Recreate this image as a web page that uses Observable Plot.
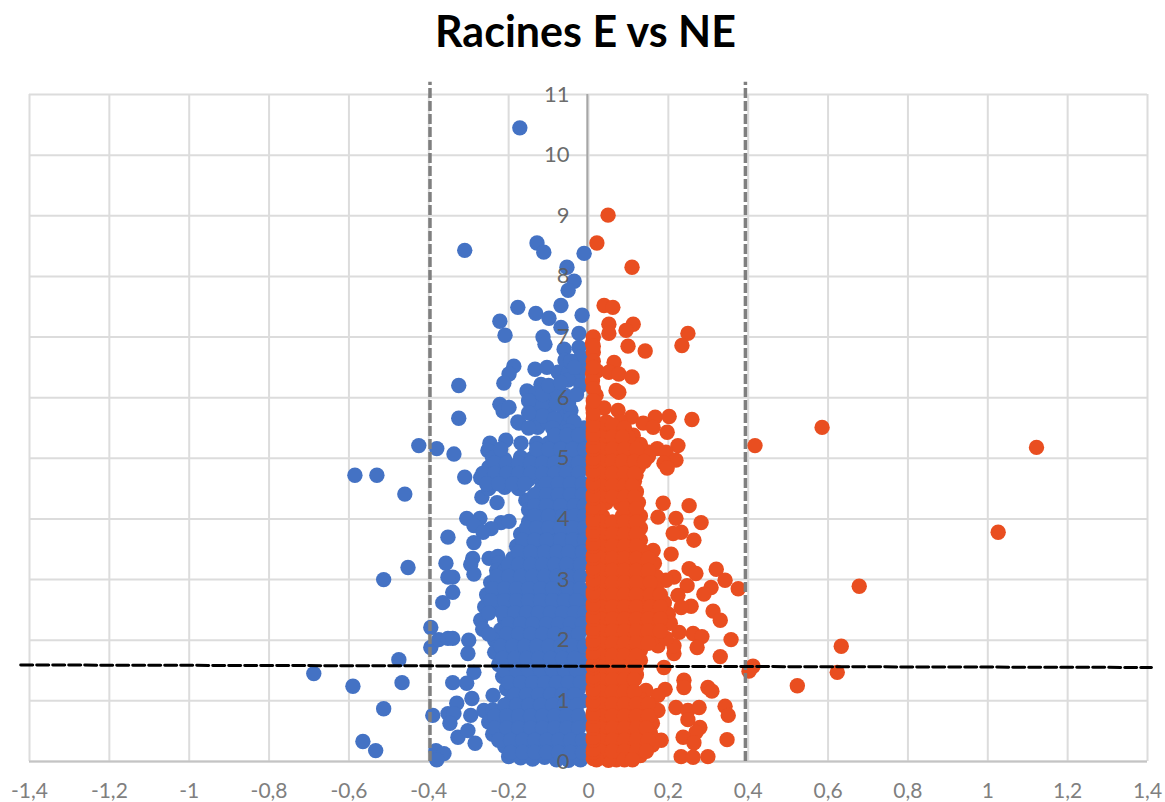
<!DOCTYPE html>
<html>
<head>
<meta charset="utf-8">
<script src="https://cdn.jsdelivr.net/npm/d3@7"></script>
<script src="https://cdn.jsdelivr.net/npm/@observablehq/plot@0.6"></script>
<style>
html,body{margin:0;padding:0;background:#fff;overflow:hidden}
#title{height:60px;font:700 43px Lato,sans-serif;line-height:62px;text-align:center;color:#000;padding-left:6px;box-sizing:border-box}
</style>
</head>
<body>
<div id="title">Racines E vs NE</div>
<div id="chart"></div>
<script>
const xTicks = [-1.4,-1.2,-1,-0.8,-0.6,-0.4,-0.2,0,0.2,0.4,0.6,0.8,1,1.2,1.4];
const yTicks = [0,1,2,3,4,5,6,7,8,9,10,11];

const blueOutliers = [
[-.172,10.45],[-.31,8.43],[-.129,8.55],[-.112,8.4],[-.011,8.38],[-.054,8.15],[-.036,7.92],[-.051,7.77],
[-.069,7.52],[-.177,7.49],[-.132,7.39],[-.099,7.31],[-.016,7.36],[-.222,7.26],[-.209,7.03],[-.069,7.16],
[-.024,7.06],[-.114,7],[-.109,6.88],[-.061,6.8],[-.024,6.83],[-.059,6.62],[-.187,6.52],[-.199,6.39],
[-.212,6.24],[-.325,6.2],[-.134,6.47],[-.104,6.5],[-.076,6.42],[-.051,6.4],[-.026,6.34],[-.119,6.22],
[-.154,6.11],[-.051,6.29],[-.019,6.2],[-.019,6.5],[-.019,6.67],[-.132,6.07],[-.132,5.87],[-.132,5.66],
[-.099,5.99],[-.099,5.76],[-.069,5.99],[-.064,5.71],[-.044,5.79],[-.059,6.04],[-.222,5.89],[-.214,5.78],
[-.199,5.84],[-.325,5.66],[-.177,5.6],[-.044,5.66],[-.011,5.5],[-.174,5.58],[-.127,5.51],[-.102,5.6],
[-.069,5.51],[-.036,5.6],[-.425,5.21],[-.38,5.16],[-.337,5.07],[-.585,4.72],[-.53,4.72],[-.31,4.69],
[-.46,4.41],[-.247,5.25],[-.252,5.13],[-.207,5.3],[-.169,5.25],[-.267,4.36],[-.229,4.27],[-.157,4.31],
[-.305,4.01],[-.272,4.01],[-.287,3.89],[-.219,3.94],[-.199,3.96],[-.244,3.84],[-.264,3.78],[-.352,3.7],
[-.287,3.61],[-.452,3.2],[-.513,3],[-.357,3.27],[-.34,3.04],[-.352,3.04],[-.34,2.79],[-.365,2.62],
[-.29,3.35],[-.295,3.25],[-.287,3.09],[-.249,3.35],[-.227,3.38],[-.225,3.27],[-.395,2.21],[-.395,1.88],
[-.375,2.01],[-.352,2.03],[-.34,2.03],[-.3,2],[-.302,1.78],[-.287,1.47],[-.475,1.68],[-.688,1.45],
[-.59,1.24],[-.467,1.3],[-.34,1.3],[-.305,1.29],[-.513,.87],[-.292,1.04],[-.33,.96],[-.239,1.09],
[-.39,.76],[-.352,.79],[-.337,.79],[-.347,.63],[-.295,.76],[-.262,.84],[-.327,.4],[-.284,.3],
[-.302,.51],[-.565,.33],[-.533,.18],[-.382,.18],[-.362,.13],[-.38,.03]
];
const blueDense = [
[-.13,5.25],[-.1,5.25],[-.07,5.28],[-.04,5.25],[-.015,5.25],
[-.24,5],[-.21,4.98],[-.17,5.02],[-.14,5],[-.11,5.02],[-.08,5],[-.05,5],[-.02,5.02],
[-.25,4.85],[-.22,4.85],[-.19,4.83],[-.16,4.85],[-.13,4.85],[-.1,4.83],[-.07,4.85],[-.04,4.85],[-.01,4.85],
[-.27,4.68],[-.24,4.65],[-.21,4.65],[-.18,4.67],[-.15,4.65],[-.12,4.65],[-.09,4.65],[-.06,4.66],[-.03,4.65],
[-.25,4.5],[-.21,4.52],[-.175,4.5],[-.12,4.48],[-.09,4.5],[-.06,4.5],[-.03,4.48],
[-.15,4.3],[-.12,4.3],[-.09,4.32],[-.06,4.3],[-.03,4.3],
[-.15,4.15],[-.115,4.13],[-.08,4.15],[-.05,4.15],[-.02,4.13],
[-.15,3.95],[-.12,3.95],[-.09,3.97],[-.06,3.95],[-.03,3.95],
[-.17,3.75],[-.14,3.75],[-.11,3.77],[-.08,3.75],[-.05,3.75],[-.02,3.75],
[-.18,3.55],[-.15,3.55],[-.12,3.53],[-.09,3.55],[-.06,3.55],[-.03,3.55],
[-.19,3.35],[-.16,3.35],[-.13,3.37],[-.1,3.35],[-.07,3.35],[-.04,3.35],[-.01,3.35],
[-.23,3.15],[-.21,3.15],[-.18,3.13],[-.15,3.15],[-.12,3.15],[-.09,3.15],[-.06,3.15],[-.03,3.15],
[-.245,2.95],[-.215,2.95],[-.185,2.97],[-.155,2.95],[-.125,2.95],[-.095,2.93],[-.065,2.95],[-.035,2.95],
[-.255,2.75],[-.225,2.75],[-.195,2.73],[-.165,2.75],[-.135,2.77],[-.105,2.75],[-.07,2.75],[-.04,2.75],[-.01,2.75],
[-.26,2.55],[-.23,2.57],[-.2,2.55],[-.17,2.55],[-.14,2.53],[-.11,2.55],[-.08,2.55],[-.05,2.55],[-.02,2.55],
[-.27,2.33],[-.21,2.35],[-.18,2.35],[-.15,2.37],[-.115,2.35],[-.085,2.35],[-.055,2.35],[-.025,2.35],
[-.265,2.18],[-.22,2.17],[-.19,2.2],[-.16,2.2],[-.13,2.18],[-.1,2.2],[-.07,2.2],[-.04,2.2],[-.01,2.2],
[-.235,2],[-.205,2],[-.175,2.02],[-.145,2],[-.115,2],[-.085,1.98],[-.055,2],[-.025,2],
[-.235,1.8],[-.205,1.82],[-.175,1.8],[-.145,1.78],[-.115,1.8],[-.08,1.8],[-.05,1.8],[-.02,1.8],
[-.225,1.6],[-.195,1.6],[-.165,1.62],[-.135,1.6],[-.105,1.6],[-.075,1.58],[-.045,1.6],[-.015,1.6],
[-.215,1.4],[-.185,1.4],[-.155,1.42],[-.125,1.4],[-.095,1.4],[-.065,1.38],[-.035,1.4],[-.01,1.4],
[-.205,1.2],[-.175,1.2],[-.145,1.22],[-.115,1.2],[-.085,1.2],[-.055,1.18],[-.025,1.2],
[-.195,1],[-.165,1.02],[-.135,1],[-.105,1],[-.075,.98],[-.045,1],[-.015,1],
[-.24,.85],[-.21,.83],[-.18,.85],[-.15,.85],[-.12,.83],[-.09,.85],[-.06,.85],[-.03,.83],
[-.25,.65],[-.22,.66],[-.19,.65],[-.16,.63],[-.13,.65],[-.1,.65],[-.07,.66],[-.04,.65],[-.01,.65],
[-.24,.45],[-.21,.47],[-.18,.45],[-.15,.43],[-.12,.45],[-.09,.45],[-.06,.43],[-.03,.45],
[-.21,.25],[-.18,.27],[-.15,.25],[-.12,.25],[-.09,.23],[-.06,.25],[-.03,.25],
[-.2,.08],[-.17,.06],[-.14,.04],[-.11,.07],[-.08,.03],[-.05,.02],[-.02,.03]
];
const blueFill = [
[-.115,5.9],[-.115,5.7],[-.08,5.9],[-.085,5.65],[-.15,5.95],[-.15,5.75],[-.115,6.05],[-.08,6.1],[-.05,5.9],[-.03,6.05],
[-.1,6.2],[-.07,6.25],[-.045,6.6],[-.035,6.5],[-.09,5.5],[-.05,5.45],[-.15,5.5],[-.02,5.35],
[-.085,5.38],[-.055,5.38],[-.025,5.38],
[-.22,5.15],[-.13,5.15],[-.1,5.15],[-.07,5.15],[-.04,5.15],[-.01,5.15],
[-.235,4.92],[-.205,4.92],[-.175,4.92],[-.145,4.92],[-.115,4.92],[-.085,4.92],[-.055,4.92],[-.025,4.92],
[-.265,4.75],[-.235,4.75],[-.205,4.75],[-.175,4.75],[-.145,4.75],[-.115,4.75],[-.085,4.75],[-.055,4.75],[-.025,4.75],
[-.255,4.58],[-.225,4.58],[-.19,4.58],[-.16,4.58],[-.105,4.58],[-.075,4.58],[-.045,4.58],[-.015,4.58],
[-.135,4.4],[-.105,4.4],[-.075,4.4],[-.045,4.4],[-.015,4.4],
[-.135,4.22],[-.105,4.22],[-.07,4.22],[-.035,4.22],[-.01,4.22],
[-.135,4.05],[-.1,4.05],[-.065,4.05],[-.035,4.05],[-.01,4.05],
[-.155,3.85],[-.13,3.85],[-.1,3.85],[-.07,3.85],[-.04,3.85],[-.01,3.85],
[-.165,3.65],[-.135,3.65],[-.105,3.65],[-.07,3.65],[-.04,3.65],[-.01,3.65],
[-.175,3.45],[-.145,3.45],[-.11,3.45],[-.08,3.45],[-.05,3.45],[-.015,3.45],
[-.2,3.25],[-.175,3.25],[-.145,3.25],[-.115,3.25],[-.085,3.25],[-.055,3.25],[-.02,3.25],
[-.23,3.05],[-.2,3.05],[-.17,3.05],[-.14,3.05],[-.11,3.05],[-.08,3.05],[-.05,3.05],[-.02,3.05],
[-.24,2.85],[-.21,2.85],[-.18,2.85],[-.15,2.85],[-.12,2.85],[-.09,2.85],[-.05,2.85],[-.02,2.85],
[-.245,2.65],[-.21,2.65],[-.18,2.65],[-.15,2.65],[-.12,2.65],[-.09,2.65],[-.06,2.65],[-.03,2.65],
[-.25,2.45],[-.215,2.45],[-.185,2.45],[-.155,2.45],[-.125,2.45],[-.095,2.45],[-.065,2.45],[-.035,2.45],[-.01,2.45],
[-.2,2.27],[-.17,2.27],[-.14,2.27],[-.105,2.27],[-.075,2.27],[-.045,2.27],[-.015,2.27],
[-.25,2.1],[-.205,2.1],[-.175,2.1],[-.145,2.1],[-.115,2.1],[-.085,2.1],[-.055,2.1],[-.025,2.1],
[-.22,1.9],[-.19,1.9],[-.16,1.9],[-.13,1.9],[-.1,1.9],[-.07,1.9],[-.04,1.9],[-.01,1.9],
[-.215,1.7],[-.185,1.7],[-.155,1.7],[-.125,1.7],[-.095,1.7],[-.065,1.7],[-.035,1.7],
[-.21,1.5],[-.18,1.5],[-.15,1.5],[-.12,1.5],[-.09,1.5],[-.06,1.5],[-.03,1.5],
[-.2,1.3],[-.17,1.3],[-.14,1.3],[-.11,1.3],[-.08,1.3],[-.05,1.3],[-.02,1.3],
[-.185,1.1],[-.155,1.1],[-.125,1.1],[-.095,1.1],[-.065,1.1],[-.035,1.1],
[-.21,.93],[-.18,.93],[-.15,.93],[-.12,.93],[-.09,.93],[-.06,.93],[-.03,.93],
[-.235,.75],[-.205,.75],[-.175,.75],[-.145,.75],[-.115,.75],[-.085,.75],[-.055,.75],[-.025,.75],
[-.235,.55],[-.205,.55],[-.175,.55],[-.145,.55],[-.115,.55],[-.085,.55],[-.055,.55],[-.025,.55],
[-.225,.35],[-.195,.35],[-.165,.35],[-.135,.35],[-.105,.35],[-.075,.35],[-.045,.35],[-.015,.35],
[-.195,.15],[-.165,.15],[-.135,.15],[-.105,.15],[-.075,.15],[-.045,.15],[-.015,.15]
];
const redOutliers = [
[.049,9.01],[.021,8.55],[.109,8.15],[.039,7.52],[.061,7.49],[.051,7.21],[.051,7.06],[.112,7.21],[.094,7.11],
[.249,7.06],[.234,6.86],[.099,6.85],[.142,6.77],[.064,6.58],[.012,6.75],[.01,6.9],[.01,6.4],[.021,6.44],
[.051,6.42],[.076,6.39],[.109,6.34],[.01,6.28],[.069,6.12],[.076,6.09],[.019,6.04],[.011,5.83],[.039,5.83],
[.074,5.79],[.107,5.68],[.137,5.58],[.167,5.68],[.202,5.69],[.259,5.64],[.162,5.51],[.197,5.43],[.112,5.38],
[.417,5.21],[.224,5.21],[.172,5.16],[.152,5.1],[.194,5.1],[.219,4.97],[.189,4.92],[.197,4.84],[.137,4.98],
[.119,4.72],[.187,4.26],[.252,4.22],[.174,4.03],[.219,4.01],[.282,3.94],[.232,3.78],[.212,3.76],[.264,3.65],
[.207,3.42],[.162,3.48],[.252,3.18],[.269,3.1],[.32,3.17],[.342,2.99],[.375,2.85],[.214,3.04],[.194,2.99],
[.247,2.9],[.307,2.87],[.289,2.76],[.224,2.74],[.257,2.56],[.312,2.48],[.33,2.33],[.232,2.54],[.357,2.01],
[.227,2.13],[.262,2.11],[.284,2.06],[.272,1.88],[.33,1.73],[.214,1.78],[.214,1.91],[.174,1.91],[.189,1.55],
[.412,1.57],[.402,1.49],[.239,1.34],[.239,1.22],[.299,1.22],[.309,1.16],[.192,1.19],[.174,1.09],[.144,1.17],
[.219,.89],[.249,.84],[.277,.89],[.342,.91],[.35,.76],[.249,.69],[.279,.56],[.269,.48],[.237,.4],[.264,.31],
[.347,.36],[.182,.35],[.232,.08],[.262,.07],[.299,.08],[.174,.84],
[1.122,5.18],[.585,5.51],[1.026,3.78],[.678,2.89],[.633,1.9],[.623,1.47],[.523,1.25]
];
const redDense = [
[.012,7],[.012,6.6],[.012,6.15],[.012,5.65],[.045,5.6],[.08,5.6],
[.012,5.45],[.04,5.45],[.07,5.43],[.09,5.45],
[.015,5.25],[.045,5.25],[.075,5.27],[.105,5.25],[.13,5.23],
[.015,5.05],[.045,5.05],[.07,5.03],[.1,5.05],[.13,5.05],[.15,5.03],
[.012,4.85],[.04,4.85],[.075,4.87],[.1,4.85],[.125,4.85],
[.015,4.65],[.045,4.65],[.07,4.63],[.105,4.65],[.115,4.62],
[.015,4.45],[.04,4.45],[.08,4.47],[.1,4.45],[.12,4.45],
[.015,4.27],[.045,4.27],[.08,4.25],[.11,4.27],[.125,4.27],
[.012,4.08],[.035,4.05],[.085,4.05],[.11,4.03],[.13,4.05],
[.015,3.85],[.045,3.85],[.075,3.85],[.105,3.83],[.13,3.85],
[.015,3.65],[.045,3.65],[.075,3.67],[.105,3.65],[.13,3.65],
[.015,3.45],[.045,3.45],[.075,3.43],[.105,3.45],[.135,3.47],
[.015,3.25],[.045,3.25],[.075,3.27],[.105,3.25],[.135,3.25],[.165,3.27],
[.015,3.05],[.045,3.05],[.075,3.03],[.105,3.05],[.135,3.05],[.17,3.05],
[.015,2.85],[.045,2.85],[.075,2.87],[.105,2.85],[.135,2.83],[.17,2.85],
[.015,2.65],[.045,2.67],[.075,2.65],[.105,2.65],[.135,2.63],[.17,2.65],[.19,2.62],
[.015,2.45],[.045,2.45],[.075,2.43],[.105,2.45],[.135,2.47],[.165,2.45],[.2,2.43],
[.015,2.25],[.045,2.25],[.075,2.27],[.105,2.25],[.135,2.25],[.165,2.23],[.205,2.28],
[.015,2.05],[.035,2.02],[.075,2.05],[.105,2.03],[.135,2.05],[.165,2.05],[.195,2.03],
[.015,1.85],[.045,1.85],[.075,1.87],[.105,1.85],[.13,1.83],
[.015,1.65],[.045,1.65],[.075,1.63],[.105,1.65],[.13,1.67],
[.015,1.45],[.045,1.45],[.075,1.47],[.105,1.45],[.12,1.43],
[.015,1.25],[.045,1.25],[.075,1.23],[.105,1.25],
[.015,1.05],[.045,1.05],[.075,1.07],[.105,1.05],[.13,1.03],
[.015,.85],[.045,.85],[.075,.83],[.105,.85],[.135,.85],[.165,.87],
[.015,.65],[.045,.65],[.075,.67],[.105,.65],[.135,.65],[.16,.63],
[.015,.45],[.045,.45],[.075,.43],[.105,.45],[.135,.45],[.155,.47],
[.015,.27],[.045,.27],[.075,.25],[.105,.27],[.135,.25],[.16,.27],
[.015,.1],[.04,.06],[.07,.03],[.1,.08],[.13,.1],[.05,.02]
];
const redFill = [
[.03,5.55],[.06,5.55],[.09,5.5],[.1,5.35],
[.03,5.35],[.06,5.35],[.085,5.35],
[.03,5.15],[.06,5.15],[.09,5.15],[.12,5.15],
[.03,4.95],[.06,4.95],[.085,4.95],[.115,4.95],[.14,4.95],
[.03,4.75],[.06,4.75],[.09,4.75],[.115,4.75],
[.03,4.55],[.06,4.55],[.09,4.55],[.11,4.55],
[.03,4.36],[.06,4.36],[.09,4.36],[.115,4.36],
[.025,4.17],[.09,4.17],[.12,4.17],
[.03,3.95],[.06,3.95],[.09,3.95],[.12,3.95],
[.03,3.75],[.06,3.75],[.09,3.75],[.12,3.75],
[.03,3.55],[.06,3.55],[.09,3.55],[.12,3.55],
[.03,3.35],[.06,3.35],[.09,3.35],[.12,3.35],[.15,3.35],
[.03,3.15],[.06,3.15],[.09,3.15],[.12,3.15],[.15,3.15],
[.03,2.95],[.06,2.95],[.09,2.95],[.12,2.95],[.155,2.95],
[.03,2.75],[.06,2.75],[.09,2.75],[.12,2.75],[.155,2.75],[.18,2.75],
[.03,2.55],[.06,2.55],[.09,2.55],[.12,2.55],[.155,2.55],[.18,2.55],
[.03,2.35],[.06,2.35],[.09,2.35],[.12,2.35],[.15,2.35],[.18,2.35],
[.03,2.15],[.06,2.15],[.09,2.15],[.12,2.15],[.15,2.15],[.18,2.15],
[.03,1.95],[.06,1.95],[.09,1.95],[.12,1.95],[.15,1.95],
[.03,1.75],[.06,1.75],[.09,1.75],[.12,1.75],
[.03,1.55],[.06,1.55],[.09,1.55],[.12,1.55],
[.03,1.35],[.06,1.35],[.09,1.35],[.115,1.35],
[.03,1.15],[.06,1.15],[.09,1.15],[.115,1.15],
[.03,.95],[.06,.95],[.09,.95],[.12,.95],[.15,.95],
[.03,.75],[.06,.75],[.09,.75],[.12,.75],[.15,.75],
[.03,.55],[.06,.55],[.09,.55],[.12,.55],[.145,.55],
[.03,.35],[.06,.35],[.09,.35],[.12,.35],[.15,.35],
[.03,.17],[.06,.17],[.09,.17],[.12,.17],[.145,.17],
[.02,.03],[.09,.03],[.11,.03]
];
const redEdgeY = [.05,.15,.2,.35,.4,.55,.6,.75,.8,.95,1,1.15,1.2,1.35,1.4,1.55,1.6,1.75,1.8,1.95,2,2.15,2.2,2.35,2.4,2.55,2.6,2.75,2.8,2.95,3,3.15,3.2,3.35,3.4,3.55,3.6,3.75,3.8,3.95,4,4.17,4.2,4.35,4.4,4.55,4.6,4.75,4.8,4.95,5,5.15,5.2,5.35,5.4,5.55,5.75,5.95,6.5,6.85];
const bluePoints = blueOutliers.concat(blueDense, blueFill);
const redPoints = redOutliers.concat(redDense, redFill, redEdgeY.map(y => [.012, y]));

const vThresholds = [-0.397, 0.393];
const vTop = 11.2;
const hThreshold = [[-1.422,1.592],[1.41,1.551]];
const zeroAxisX = -0.003;

const comma = d => String(d).replace(".", ",");

const plot = Plot.plot({
  width: 1165,
  height: 742,
  marginLeft: 29,
  marginRight: 18,
  marginTop: 34,
  marginBottom: 41,
  style: {fontFamily: "Lato, sans-serif", background: "#fff", overflow: "visible"},
  x: {domain: [-1.4, 1.4], axis: null},
  y: {domain: [0, 11], axis: null},
  marks: [
    Plot.ruleX(xTicks, {stroke: "#dcdcdc", strokeWidth: 2}),
    Plot.ruleY(yTicks, {stroke: "#dcdcdc", strokeWidth: 2}),
    Plot.ruleX([zeroAxisX], {stroke: "#a6a6a6", strokeWidth: 2}),
    Plot.ruleY([0], {stroke: "#c4c4c4", strokeWidth: 2}),
    Plot.axisX({ticks: xTicks, tickFormat: comma, tickSize: 0, tickPadding: 22, fontSize: 21, fill: "#7f7f7f"}),
    Plot.dot(bluePoints, {x: d => d[0], y: d => d[1], r: 7.7, fill: "#4472c4"}),
    Plot.dot(redPoints, {x: d => d[0], y: d => d[1], r: 7.7, fill: "#e94e20"}),
    Plot.ruleX(vThresholds, {y1: 0, y2: vTop, stroke: "#7f7f7f", strokeWidth: 3.5, strokeDasharray: "10,3"}),
    Plot.line(hThreshold, {x: d => d[0], y: d => d[1], stroke: "#000", strokeWidth: 3, strokeDasharray: "12,4"}),
    Plot.text(yTicks, {x: 0, y: d => d, text: d => String(d), dx: -19, textAnchor: "end", fontSize: 22, fill: "#595959", fillOpacity: 0.9})
  ]
});
document.getElementById("chart").appendChild(plot);
</script>
</body>
</html>
